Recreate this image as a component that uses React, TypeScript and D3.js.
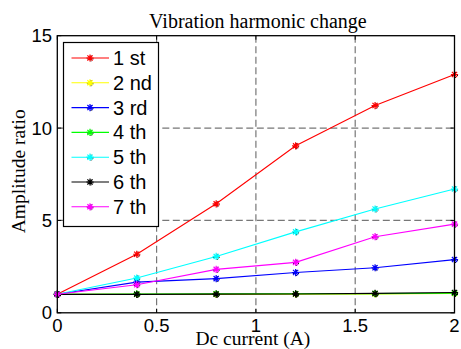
import React from "react";
import * as d3 from "d3";

const xValues = [0, 0.4, 0.8, 1.2, 1.6, 2];
const seriesNames = ["1 st", "2 nd", "3 rd", "4 th", "5 th", "6 th", "7 th"];
const seriesColors = ["#ff0000", "#ffff00", "#0000ff", "#00ff00", "#00ffff", "#000000", "#ff00ff"];
const s1 = [1, 3.17, 5.9, 9.04, 11.22, 12.9];
const s2 = [1, 1.0, 1.0, 1.01, 1.02, 1.05];
const s3 = [1, 1.66, 1.85, 2.18, 2.44, 2.88];
const s4 = [1, 1.02, 1.03, 1.03, 1.04, 1.06];
const s5 = [1, 1.88, 3.05, 4.38, 5.62, 6.7];
const s6 = [1, 1.0, 1.01, 1.02, 1.05, 1.1];
const s7 = [1, 1.52, 2.35, 2.73, 4.12, 4.8];
const allSeries = [s1, s2, s3, s4, s5, s6, s7];
const xTicks = [0, 0.5, 1, 1.5, 2];
const xTickLabels = ["0", "0.5", "1", "1.5", "2"];
const yTicks = [0, 5, 10, 15];
const yTickLabels = ["0", "5", "10", "15"];
const titleText = "Vibration harmonic change";
const xLabel = "Dc current (A)";
const yLabel = "Amplitude ratio";

const W = 461, H = 349;
const L = 57.3, R = 454.5, T = 35.7, B = 312.8;

function Star({ x, y, color, s = 3.6 }: { x: number; y: number; color: string; s?: number }) {
  const d = s * 0.72;
  const path = `M${x - s},${y}L${x + s},${y}M${x},${y - s}L${x},${y + s}M${x - d},${y - d}L${x + d},${y + d}M${x - d},${y + d}L${x + d},${y - d}`;
  const pathB = `M${x - s + 1},${y + 1}L${x + s + 1},${y + 1}M${x + 1},${y - s + 1}L${x + 1},${y + s + 1}`;
  return (
    <g>
      <path d={pathB} stroke="#000" strokeWidth={1} strokeDasharray="1,1.5" />
      <path d={path} stroke={color} strokeWidth={1.2} />
    </g>
  );
}

export default function App() {
  const x = d3.scaleLinear().domain([0, 2]).range([L, R]);
  const y = d3.scaleLinear().domain([0, 15]).range([B, T]);
  const line = d3.line<number>().x((_, i) => x(xValues[i])).y((v) => y(v));
  const sans = "'Liberation Sans', Arial, sans-serif";
  const serif = "'Liberation Serif', 'Times New Roman', serif";
  const legX = 63.5, legY = 42.5, legW = 95, legH = 184;
  const rowH = 24.8;
  return (
    <svg width={W} height={H} style={{ position: "absolute", left: 0, top: 0, background: "#fff" }}>
      <rect x={0} y={0} width={W} height={H} fill="#fff" />
      {/* grid */}
      {xTicks.slice(1, -1).map((t) => (
        <line key={"gx" + t} x1={x(t)} x2={x(t)} y1={T} y2={B} stroke="#777" strokeWidth={1.2} strokeDasharray="7,3.5" />
      ))}
      {yTicks.slice(1, -1).map((t) => (
        <line key={"gy" + t} x1={L} x2={R} y1={y(t)} y2={y(t)} stroke="#777" strokeWidth={1.2} strokeDasharray="7,3.5" />
      ))}
      {/* ticks */}
      {xTicks.map((t) => (
        <g key={"tx" + t}>
          <line x1={x(t)} x2={x(t)} y1={B} y2={B - 4} stroke="#000" />
          <line x1={x(t)} x2={x(t)} y1={T} y2={T + 4} stroke="#000" />
        </g>
      ))}
      {yTicks.map((t) => (
        <g key={"ty" + t}>
          <line x1={L} x2={L + 4} y1={y(t)} y2={y(t)} stroke="#000" />
          <line x1={R} x2={R - 4} y1={y(t)} y2={y(t)} stroke="#000" />
        </g>
      ))}
      {/* data */}
      {allSeries.map((s, i) => (
        <g key={"s" + i}>
          <path d={line(s) || ""} fill="none" stroke={seriesColors[i]} strokeWidth={1.1} />
          {s.map((v, j) => (
            <Star key={j} x={x(xValues[j])} y={y(v)} color={seriesColors[i]} />
          ))}
        </g>
      ))}
      {/* axes box */}
      <rect x={L} y={T} width={R - L} height={B - T} fill="none" stroke="#000" strokeWidth={1.3} />
      {/* tick labels */}
      {xTicks.map((t, i) => (
        <text key={"xl" + t} x={x(t)} y={332} textAnchor="middle" fontFamily={sans} fontSize={18.5}>
          {xTickLabels[i]}
        </text>
      ))}
      {yTicks.map((t, i) => (
        <text key={"yl" + t} x={52} y={y(t) + 6.5} textAnchor="end" fontFamily={sans} fontSize={18.5}>
          {yTickLabels[i]}
        </text>
      ))}
      {/* title and labels */}
      <text x={(L + R) / 2 + 2} y={28} textAnchor="middle" fontFamily={serif} fontSize={20}>
        {titleText}
      </text>
      <text x={(L + R) / 2 - 3} y={345} textAnchor="middle" fontFamily={serif} fontSize={19.5}>
        {xLabel}
      </text>
      <text transform={`translate(25,${(T + B) / 2 - 3}) rotate(-90)`} textAnchor="middle" fontFamily={serif} fontSize={19.5}>
        {yLabel}
      </text>
      {/* legend */}
      <rect x={legX} y={legY} width={legW} height={legH} fill="#fff" stroke="#000" strokeWidth={1.2} />
      {seriesNames.map((n, i) => {
        const cy = legY + 15.5 + i * rowH;
        return (
          <g key={"lg" + i}>
            <line x1={71.5} x2={109} y1={cy} y2={cy} stroke={seriesColors[i]} strokeWidth={1.1} />
            <Star x={90} y={cy} color={seriesColors[i]} />
            <text x={113} y={cy + 7} fontFamily={sans} fontSize={20}>
              {n}
            </text>
          </g>
        );
      })}
    </svg>
  );
}
